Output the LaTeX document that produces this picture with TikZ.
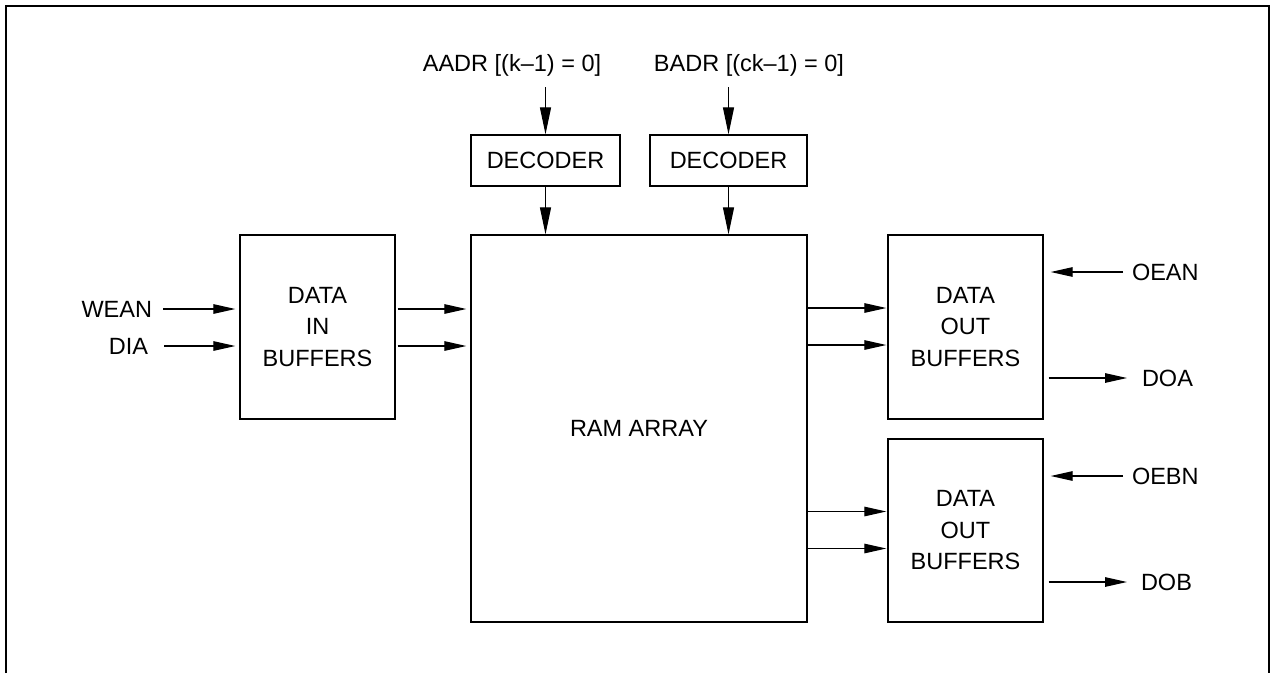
\documentclass[tikz,border=0pt]{standalone}
\usepackage{fontspec}
\setmainfont{Liberation Sans}
\usetikzlibrary{arrows.meta}
\tikzstyle{arrow}   = [line width=1.2pt, -{Triangle[length=22pt,width=9.5pt]}]
\tikzstyle{varrow}  = [line width=1.2pt, -{Triangle[length=27pt,width=11pt]}]
\tikzstyle{block}   = [draw, line width=1.3pt, align=center, inner sep=0pt]
\tikzstyle{signame} = [inner sep=0pt, outer sep=0pt]

\begin{document}
\begin{tikzpicture}[
        x=1pt,
        y=-1pt,
        every node/.style={font=\fontsize{23.5}{31.5}\selectfont}
    ]
        \useasboundingbox (0,0) rectangle (1271,673);

        % Rahmen
        \draw[line width=1.8pt] (6,673) -- (6,6) -- (1269,6) -- (1269,673);

        % Adressen und Decoder
        \node[signame, anchor=base] (aadr) at (512,71) {AADR [(k–1) = 0]};
        \node[signame, anchor=base] (badr) at (749,71) {BADR [(ck–1) = 0]};
        \node[block, minimum width=149pt, minimum height=51pt] (decA)
            at (545.5,160.5) {DECODER};
        \node[block, minimum width=157pt, minimum height=51pt] (decB)
            at (728.5,160.5) {DECODER};

        % Speicher
        \node[block, minimum width=336pt, minimum height=387pt] (ram)
            at (639,428.5) {RAM ARRAY};

        % Eingangspuffer
        \node[block, minimum width=155pt, minimum height=184pt] (din)
            at (317.5,327) {DATA\\IN\\BUFFERS};
        \node[signame, anchor=east] (wean) at (152,309) {WEAN};
        \node[signame, anchor=east] (dia) at (148,346) {DIA};

        % Ausgangspuffer
        \node[block, minimum width=155pt, minimum height=184pt] (doutA)
            at (965.5,327) {DATA\\OUT\\BUFFERS};
        \node[block, minimum width=155pt, minimum height=183pt] (doutB)
            at (965.5,530.5) {DATA\\OUT\\BUFFERS};
        \node[signame, anchor=west] (oean) at (1132,272) {OEAN};
        \node[signame, anchor=west] (doa) at (1142,378) {DOA};
        \node[signame, anchor=west] (oebn) at (1132,476) {OEBN};
        \node[signame, anchor=west] (dob) at (1141,582) {DOB};

        % Adressen -> Decoder -> Speicher
        \foreach \d in {decA,decB} {
            \draw[varrow] ([yshift=47pt]\d.north) -- (\d.north);
            \draw[varrow] (\d.south) -- (\d.south |- ram.north);
        }

        % Eingaenge -> Eingangspuffer -> Speicher
        \draw[arrow] ([xshift=11pt]wean.east) -- ([xshift=-4pt]din.west |- wean);
        \draw[arrow] ([xshift=16pt]dia.east) -- ([xshift=-4pt]din.west |- dia);
        \foreach \s in {wean,dia} {
            \draw[arrow] ([xshift=2pt]din.east |- \s) -- ([xshift=-4pt]ram.west |- \s);
        }

        % Speicher -> Ausgangspuffer
        \foreach \b in {doutA,doutB} {
            \foreach \dy in {19,-18} {
                \draw[arrow] ([yshift=\dy pt]ram.east |- \b.west)
                    -- ([yshift=\dy pt, xshift=-1pt]\b.west);
            }
        }

        % Steuersignale und Ausgaenge
        \draw[arrow] ([xshift=-9pt]oean.west) -- ([xshift=7pt]doutA.east |- oean);
        \draw[arrow] ([xshift=5pt]doutA.east |- doa) -- ([xshift=-15pt]doa.west);
        \draw[arrow] ([xshift=-9pt]oebn.west) -- ([xshift=7pt]doutB.east |- oebn);
        \draw[arrow] ([xshift=5pt]doutB.east |- dob) -- ([xshift=-14pt]dob.west);

    \end{tikzpicture}
\end{document}
